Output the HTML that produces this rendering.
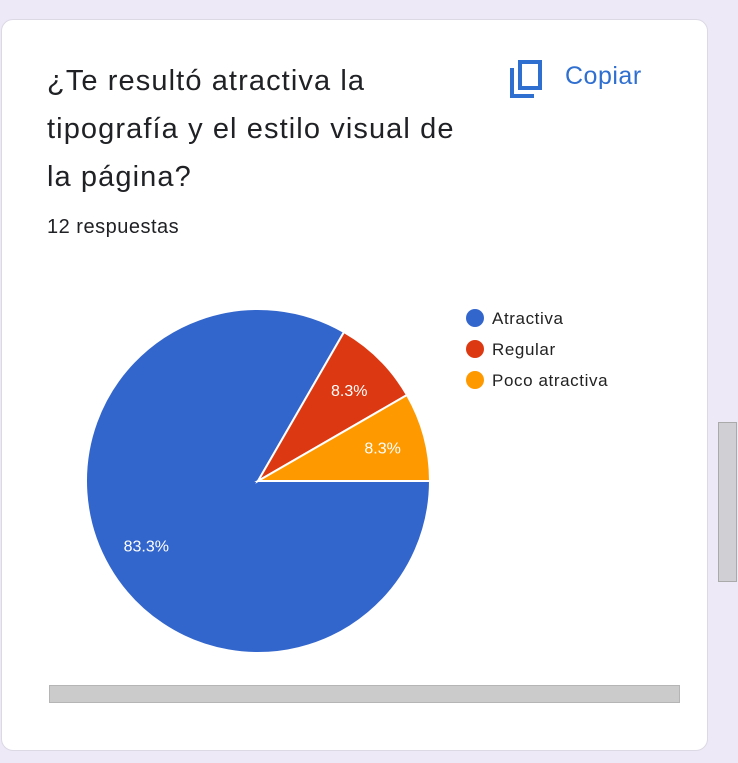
<!DOCTYPE html>
<html><head><meta charset="utf-8"><style>
body{margin:0;width:738px;height:763px;background:#ede9f6;position:relative;overflow:hidden;font-family:"Liberation Sans",sans-serif}
.card{position:absolute;left:1px;top:19px;width:705px;height:730px;background:#fff;border:1px solid #dcd8e4;border-radius:12px}
.title{position:absolute;left:47px;top:57px;font-size:29px;letter-spacing:1.1px;line-height:48px;color:#202124;white-space:nowrap}
.resp{position:absolute;left:47px;top:216px;font-size:20px;letter-spacing:0.5px;color:#202124}
.copy{position:absolute;left:565px;top:62px;font-size:25px;letter-spacing:0.5px;color:#2f6fd0}
.vs{position:absolute;left:718px;top:422px;width:19px;height:160px;background:#cfcfd4;border:1px solid #aaa;box-sizing:border-box}
.hs{position:absolute;left:49px;top:685px;width:631px;height:18px;background:#cbcbcb;border:1px solid #b5b5b5;box-sizing:border-box}
</style></head><body>
<div class="card"></div>
<div class="title">¿Te resultó atractiva la<br>tipografía y el estilo visual de<br>la página?</div>
<div class="resp">12 respuestas</div>
<svg style="position:absolute;left:508px;top:60px" width="36" height="40">
<path d="M4 8 V36 H26" fill="none" stroke="#2f6fd0" stroke-width="4"/>
<rect x="12" y="2" width="20" height="26" fill="none" stroke="#2f6fd0" stroke-width="4"/></svg>
<div class="copy">Copiar</div>
<svg id="chart" style="position:absolute;left:0;top:0" width="738" height="763"></svg>
<div class="vs"></div>
<div class="hs"></div>
<script>
const categories=["Atractiva","Regular","Poco atractiva"];
const counts=[10,1,1];
const colors=["#3366cc","#dc3912","#ff9900"];
const svg=document.getElementById('chart');
const NS="http://www.w3.org/2000/svg";
const cx=258,cy=481,r=172;
const total=counts.reduce((a,b)=>a+b,0);
let ang=0;
function pt(a,rr){return [cx+rr*Math.cos(a),cy+rr*Math.sin(a)];}
counts.forEach((v,i)=>{
  const sweep=v/total*2*Math.PI;
  const a0=ang,a1=ang+sweep;
  const p0=pt(a0,r),p1=pt(a1,r);
  const path=document.createElementNS(NS,'path');
  path.setAttribute('d',`M${cx} ${cy} L${p0[0]} ${p0[1]} A${r} ${r} 0 ${sweep>Math.PI?1:0} 1 ${p1[0]} ${p1[1]} Z`);
  path.setAttribute('fill',colors[i]);path.setAttribute('stroke','#fff');path.setAttribute('stroke-width','2');
  
  
  svg.appendChild(path);
  const mid=(a0+a1)/2;
  const lp=pt(mid,r*0.75);
  const t=document.createElementNS(NS,'text');
  t.setAttribute('x',lp[0]);t.setAttribute('y',lp[1]+6);t.setAttribute('text-anchor','middle');
  t.setAttribute('fill','#fff');t.setAttribute('font-size','16');t.setAttribute('font-family','Liberation Sans, sans-serif');
  t.textContent=(v/total*100).toFixed(1)+'%';
  
  
  svg.appendChild(t);
  ang=a1;
});
categories.forEach((c,i)=>{
  const y=318+i*31;
  const g=document.createElementNS(NS,'g');
  
  
  const ci=document.createElementNS(NS,'circle');
  ci.setAttribute('cx',475);ci.setAttribute('cy',y);ci.setAttribute('r',9);ci.setAttribute('fill',colors[i]);
  const t=document.createElementNS(NS,'text');
  t.setAttribute('x',492);t.setAttribute('y',y+6);t.setAttribute('font-size','17');t.setAttribute('letter-spacing','0.6');t.setAttribute('fill','#222');
  t.setAttribute('font-family','Liberation Sans, sans-serif');t.textContent=c;
  g.appendChild(ci);g.appendChild(t);svg.appendChild(g);
});
</script>
</body></html>
